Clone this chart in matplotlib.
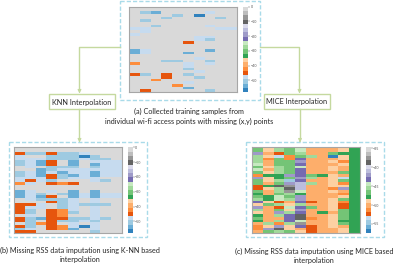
# Heatmaps of RSS values before and after imputation, with flow boxes
import numpy as np
import matplotlib
matplotlib.use('Agg')
import matplotlib.pyplot as plt
from matplotlib.patches import Rectangle

W, H = 394, 265
plt.rcParams['font.family'] = ['Lato', 'DejaVu Sans']

# one letter per cell, each letter is one colour step of tab20c, '.' = lightest grey
steps = 'abcdefghijklmnopqrs.'

grid_a = [
    "..........", "..........", ".cb....d..", "....c.a...",
    "...c....c.", ".c........", "..........", "..c....d..",
    "dd......dd", ".d........", "d.........", "......dd..",
    "......dc..", ".....e....", "..........", "..........",
    "bd.....b..", "bd...b....", "..........", "......d...",
    "...cc..c..", "f....d.d..", ".....d....", ".....c....",
    "......d...", "ec.e.c....", "...e..c...", "..f.......",
    ".....d....", "....f.....", ".....b....", ".e.....c..",
]
grid_b = [
    "..........", "..........", "ecceccd...", "d..cccac..",
    "dddcccdcc.", "cdbe.b.ddd", "cdbe.b.bdd", ".d.ccc.cdd",
    "..bcdddddd", "cdbdbddbdd", "cdbecbdbdd", "dddecddd..",
    "dedc...dc.", "fd.efe....", "..........", "..........",
    "bd.d.b.b..", "bdc.cbdbdd", "bdbe.bdbdd", ".dcccd.d..",
    "...ecd.d..", "eed.cdccc.", "edd.cd.d..", "ec.efd.d..",
    "ec.efc.d..", ".d.ef..d..", "ecbeeccdc.", "ec.eccdc..",
    ".cfe.d.d..", "ec.efdad..", "cd.efb.d..", "ee.....c..",
]
grid_c = [
    "jhkjlggghi", "jhkjlggghi", "ngejkggjii", "khdfjkgahc",
    "kfjfmggghi", "kgjjngghfi", "lgjjmggghi", "jhkjlgghgi",
    "lgkjmgghgi", "jhkjmgggji", "fiinmjihgi", "nhijnkghdi",
    "jhkcmgghji", "jgjnokghfi", "eiqrogghhi", "ehkqoggfni",
    "jgkrlgghgi", "igjkigggfi", "jiljnggghi", "kilkngghji",
    "mhegmeghfi", "hjkhkgghei", "ngelmjghei", "kgjhngghji",
    "hgnkmgigji", "igkmqgghji", "jggmqfghji", "igkmlgghii",
    "gkfkrgghji", "fhnhmeghgi", "fnqhgegghi", "gjkjhegghi",
]
# the last column of the MICE grid is one solid green
grid_c = [row[:9] + 'i' for row in grid_c]

ticks_a = [0, -10, -20, -30, -40, -50]
ticks_c = [-35, -40, -45, -50, -55]

box_green = '#c5d99f'
dash_blue = '#a9dbe9'
text_col = '#262626'


def to_axes(x0, y0, x1, y1):
    # pixel box (y from top) to a figure axes
    return fig.add_axes([x0 / W, 1 - y1 / H, (x1 - x0) / W, (y1 - y0) / H])


def heatmap(grid, vmin, vmax, ticks, box, cbox):
    idx = np.array([[steps.index(c) for c in row] for row in grid])
    values = vmin + (idx + 0.5) * (vmax - vmin) / 20
    ax = to_axes(*box)
    im = ax.imshow(values, cmap='tab20c', vmin=vmin, vmax=vmax, aspect='auto',
                   interpolation='nearest')
    ax.set_xticks([])
    ax.set_yticks([])
    for s in ax.spines.values():
        s.set_color('#a6a6a6')
        s.set_linewidth(0.8)
    cax = to_axes(*cbox)
    cb = fig.colorbar(im, cax=cax)
    cb.set_ticks(ticks)
    cb.set_ticklabels(['\u2212' + str(abs(t)) if t else '0' for t in ticks])
    cb.ax.tick_params(labelsize=2.6, length=1.2, width=0.3, pad=0.5,
                      colors='#555555')
    cb.outline.set_visible(False)


fig = plt.figure(figsize=(W / 100, H / 100), dpi=100)

heatmap(grid_a, -58, 0, ticks_a, (129.3, 6.7, 236.7, 92.3), (243.3, 6.7, 248.3, 92.3))
heatmap(grid_b, -58, 0, ticks_a, (14.3, 147.3, 121.7, 233.3), (128.3, 147.3, 132.8, 233.3))
heatmap(grid_c, -57.5, -34.7, ticks_c, (252.3, 147.3, 360, 233.3), (366.3, 147.3, 370.8, 233.3))

# overlay in pixel coordinates for boxes, arrows and captions
ov = fig.add_axes([0, 0, 1, 1], zorder=5)
ov.set_xlim(0, W)
ov.set_ylim(H, 0)
ov.axis('off')

for x, y, w, h in [(120.5, 0.5, 139.5, 99.5), (9, 141.7, 138, 95), (245.7, 141.7, 138.3, 95)]:
    ov.add_patch(Rectangle((x, y), w, h, fill=False, ec=dash_blue, lw=1, ls=(0, (3, 1.5))))

for x, y, w, h in [(49.3, 94.3, 65.4, 15), (264.3, 94.3, 65.4, 15)]:
    ov.add_patch(Rectangle((x, y), w, h, fc='white', ec=box_green, lw=1))

ov.plot([120.5, 79.5, 79.5], [46.7, 46.7, 90], color=box_green, lw=1)
ov.plot([260, 299.5, 299.5], [46.7, 46.7, 90], color=box_green, lw=1)
ov.plot([79.5, 79.5], [109.3, 139], color=box_green, lw=1)
ov.plot([300, 300], [109.3, 139], color=box_green, lw=1)
for x, y in [(79.5, 93.5), (299.5, 93.5), (79.5, 142.5), (300, 142.5)]:
    ov.annotate('', xy=(x, y), xytext=(x, y - 5),
                arrowprops=dict(arrowstyle='-|>', color=box_green, lw=0.8, mutation_scale=5))

ov.text(81.5, 102.5, 'KNN Interpolation', ha='center', va='center', fontsize=5.3, color=text_col)
ov.text(297, 101.5, 'MICE Interpolation', ha='center', va='center', fontsize=5.3, color=text_col)

ov.text(189, 111.7, '(a) Collected training samples from', ha='center', va='center', fontsize=5.25, color=text_col)
ov.text(189, 121.3, 'individual wi-fi access points with missing (x,y) points', ha='center', va='center', fontsize=5.25, color=text_col)
ov.text(79.5, 250, '(b) Missing RSS data imputation using K-NN based', ha='center', va='center', fontsize=5.25, color=text_col)
ov.text(79.5, 259.5, 'interpolation', ha='center', va='center', fontsize=5.25, color=text_col)
ov.text(314, 251.7, '(c) Missing RSS data imputation using MICE based', ha='center', va='center', fontsize=5.25, color=text_col)
ov.text(314, 261, 'interpolation', ha='center', va='center', fontsize=5.25, color=text_col)

plt.savefig('out.png', dpi=100)
